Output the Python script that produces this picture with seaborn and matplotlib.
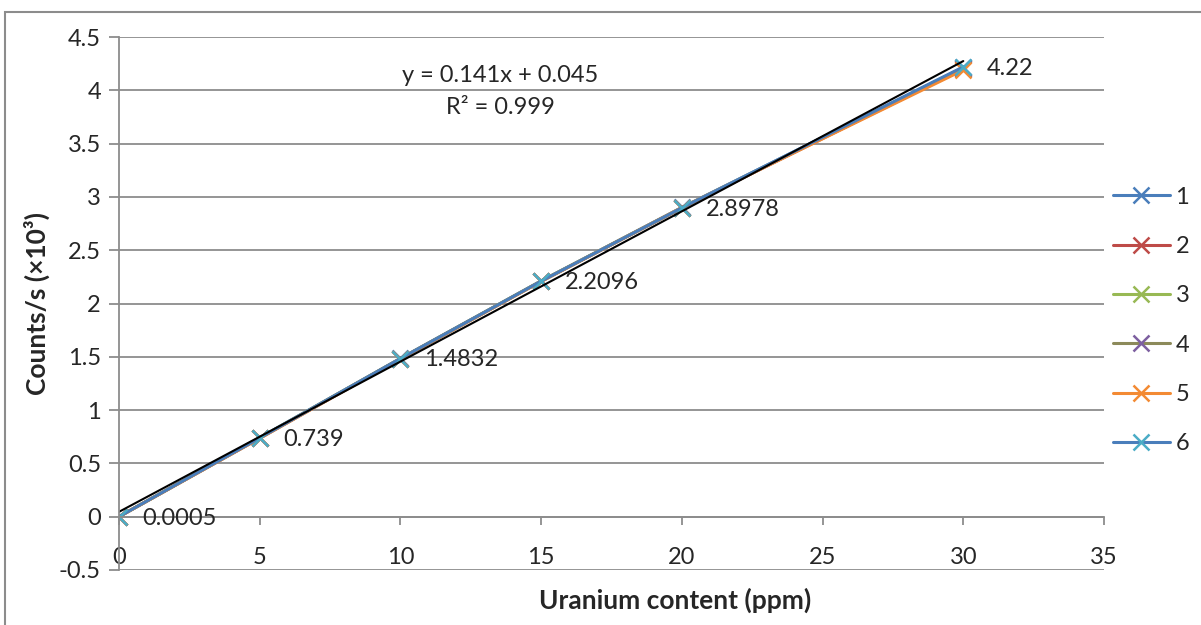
import numpy as np
import pandas as pd
import seaborn as sns
import matplotlib.pyplot as plt
from matplotlib.patches import Rectangle

# veriler - okunan degerler
uranium_ppm = [0, 5, 10, 15, 20, 30]
series_names = ["1", "2", "3", "4", "5", "6"]
s1 = [0.0005, 0.742, 1.4850, 2.2120, 2.9010, 4.215]
s2 = [0.0004, 0.736, 1.4800, 2.2080, 2.8950, 4.200]
s3 = [0.0006, 0.740, 1.4820, 2.2110, 2.8990, 4.205]
s4 = [0.0005, 0.738, 1.4840, 2.2090, 2.8960, 4.210]
s5 = [0.0004, 0.735, 1.4790, 2.2070, 2.9000, 4.190]
s6 = [0.0005, 0.739, 1.4832, 2.2096, 2.8978, 4.220]
all_series = [s1, s2, s3, s4, s5, s6]
point_labels = ["0.0005", "0.739", "1.4832", "2.2096", "2.8978", "4.22"]
eq_text = "y = 0.141x + 0.045"
r2_text = "R² = 0.999"

line_colors = ["#4A7EBB", "#BE4B48", "#98B954", "#8C8A5A", "#F38A33", "#4A7EBB"]
marker_colors = ["#4A7EBB", "#BE4B48", "#98B954", "#7D5FA0", "#F38A33", "#4BACC6"]

sns.set_style("white")
plt.rcParams['font.family'] = ['Lato', 'DejaVu Sans']

fig = plt.figure(figsize=(12.01, 6.25), dpi=100)
ax = fig.add_axes([119/1201, 1-570/625, 985/1201, 533/625])

# cerceve
fig.patches.append(Rectangle((5/1201, -0.1), 1.2, 1-12/625+0.1, transform=fig.transFigure,
                             fill=False, edgecolor="#8C8C8C", linewidth=1.5))

for name, vals, lc in zip(series_names, all_series, line_colors):
    sns.lineplot(x=uranium_ppm, y=vals, color=lc, marker="x", markersize=12,
                 markeredgewidth=1.8, linewidth=2.2, label=name, ax=ax)

for line, mc in zip(ax.lines, marker_colors):
    line.set_markeredgecolor(mc)
    line.set_markerfacecolor(mc)

# trend cizgisi
sns.regplot(x=uranium_ppm, y=s6, scatter=False, ci=None, truncate=True,
            color="black", line_kws={"linewidth": 1.5}, ax=ax)

for xv, yv, lab in zip(uranium_ppm, s6, point_labels):
    ax.annotate(lab, (xv, yv), xytext=(17, -1), textcoords="offset points",
                va="center", ha="left", fontsize=17)

ax.text(13.55, 4.14, eq_text, ha="center", va="center", fontsize=17)
ax.text(13.55, 3.84, r2_text, ha="center", va="center", fontsize=17)

ax.set_xlim(0, 35)
ax.set_ylim(-0.5, 4.5)
ax.set_xticks(np.arange(0, 36, 5))
ax.set_yticks(np.arange(-0.5, 4.6, 0.5))
ax.set_yticklabels(["-0.5", "0", "0.5", "1", "1.5", "2", "2.5", "3", "3.5", "4", "4.5"])
ax.yaxis.grid(True, color="#8C8C8C", linewidth=1.3)
ax.xaxis.grid(False)
ax.set_axisbelow(True)

for sp in ["top", "right"]:
    ax.spines[sp].set_visible(False)
ax.spines["bottom"].set_position(("data", 0))
ax.spines["bottom"].set_color("#8C8C8C")
ax.spines["bottom"].set_linewidth(1.3)
ax.spines["left"].set_color("#8C8C8C")
ax.spines["left"].set_linewidth(1.3)
ax.tick_params(axis="x", direction="out", length=6, width=1.3, color="#8C8C8C",
               pad=16, labelsize=17, bottom=True)
ax.tick_params(axis="y", direction="out", length=7, width=1.3, color="#8C8C8C",
               pad=6, labelsize=17, left=True)

ax.set_xlabel("Uranium content (ppm)", fontsize=19, fontweight="bold")
ax.set_ylabel("Counts/s (×10³)", fontsize=19, fontweight="bold")
ax.xaxis.set_label_coords(0.5645, -0.033)
ax.yaxis.set_label_coords(-0.07, 0.5)

ax.legend(loc="center left", bbox_to_anchor=(1.009, 0.468), frameon=False, fontsize=17,
          handlelength=2.4, handletextpad=0.25, labelspacing=1.2,
          borderaxespad=0, borderpad=0)

plt.savefig("out.png", dpi=100)
